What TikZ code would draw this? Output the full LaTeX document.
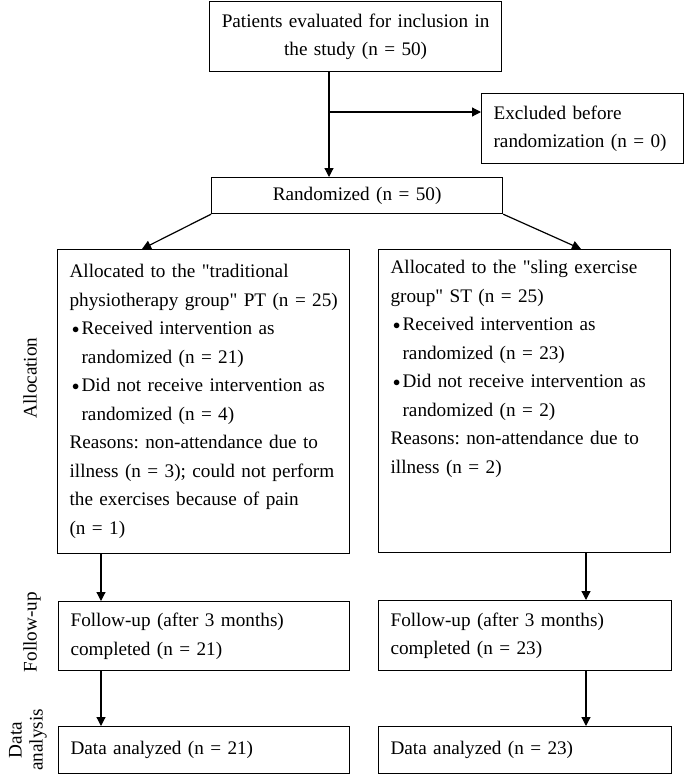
\documentclass[tikz,border=0pt]{standalone}
\usepackage{fontspec}
\setmainfont{Liberation Serif}
\newfontfamily\plainserif{Liberation Serif}
\usetikzlibrary{arrows.meta}

\newcommand{\flowfont}{\fontsize{19.2}{28.5}\selectfont\frenchspacing}
\newcommand{\bulletmark}{\makebox[12pt][c]{\raisebox{1.2pt}{\fontsize{14}{14}\selectfont$\bullet$}}}
\newcommand{\bulletpad}{\hspace*{12pt}}
\newcommand{\dq}{{\plainserif"}}

\tikzset{
  box/.style={draw, line width=1.2pt, anchor=north west, inner xsep=12pt,
    inner ysep=0pt, font=\flowfont, align=left},
  stage/.style={rotate=90, font=\flowfont},
  flow/.style={line width=1.2pt, -{Triangle[length=9pt,width=9pt]}},
}

\begin{document}
\begin{tikzpicture}[x=1pt,y=-1pt]
  \useasboundingbox (0,0) rectangle (685,774);

  % enrolment
  \node[box, align=center, text width=268pt, minimum height=70pt] (evaluated) at (209,1)
    {Patients evaluated for inclusion in\\the study (n = 50)};
  \node[box, text width=178pt, minimum height=70pt] (excluded) at (481,93)
    {Excluded before\\randomization (n = 0)};
  \node[box, align=center, text width=267pt, minimum height=36pt] (randomized) at (211,177)
    {Randomized (n = 50)};

  % allocation
  \node[box, text width=268pt, minimum height=304pt] (allocPT) at (57,249)
    {Allocated to the \dq traditional\\
     \mbox{physiotherapy group\dq{} PT (n = 25)}\\
     \bulletmark Received intervention as\\
     \bulletpad randomized (n = 21)\\
     \mbox{\bulletmark Did not receive intervention as}\\
     \bulletpad randomized (n = 4)\\
     Reasons: non-attendance due to\\
     \mbox{illness (n = 3); could not perform}\\
     the exercises because of pain\\
     (n = 1)};
  \node[box, text width=268pt, text height=24pt, text depth=279pt] (allocST) at (378,249)
    {Allocated to the \dq sling exercise\\
     group\dq{} ST (n = 25)\\
     \bulletmark Received intervention as\\
     \bulletpad randomized (n = 23)\\
     \mbox{\bulletmark Did not receive intervention as}\\
     \bulletpad randomized (n = 2)\\
     Reasons: non-attendance due to\\
     illness (n = 2)};

  % follow-up and analysis
  \node[box, text width=267pt, minimum height=69pt] (followPT) at (58,601)
    {Follow-up (after 3 months)\\completed (n = 21)};
  \node[box, text width=269pt, minimum height=70pt] (followST) at (378,600)
    {Follow-up (after 3 months)\\completed (n = 23)};
  \node[box, text width=267pt, minimum height=47pt] (dataPT) at (58,726)
    {Data analyzed (n = 21)};
  \node[box, text width=269pt, minimum height=47pt] (dataST) at (378,726)
    {Data analyzed (n = 23)};

  % stage labels
  \node[stage] (allocation) at (30,378) {Allocation};
  \node[stage] (followup) at (32,632) {Follow-up};
  \node[stage, align=center, font=\fontsize{19.2}{21}\selectfont] (analysis) at (28,740)
    {Data\\analysis};

  \coordinate (branch) at (329,112);
  \coordinate (ptin) at (142,249);
  \coordinate (stin) at (581,249);
  \coordinate (ptcol) at (101,0);
  \coordinate (stcol) at (586,0);

  \begin{scope}[flow]
    \draw (evaluated.south -| branch) to (randomized.north -| branch);
    \draw (branch) to (branch -| excluded.west);
    \draw (randomized.south west) to (ptin);
    \draw (randomized.south east) to (stin);
    \draw (allocPT.south -| ptcol) to (followPT.north -| ptcol);
    \draw (followPT.south -| ptcol) to (dataPT.north -| ptcol);
    \draw (allocST.south -| stcol) to (followST.north -| stcol);
    \draw (followST.south -| stcol) to (dataST.north -| stcol);
  \end{scope}
\end{tikzpicture}
\end{document}
